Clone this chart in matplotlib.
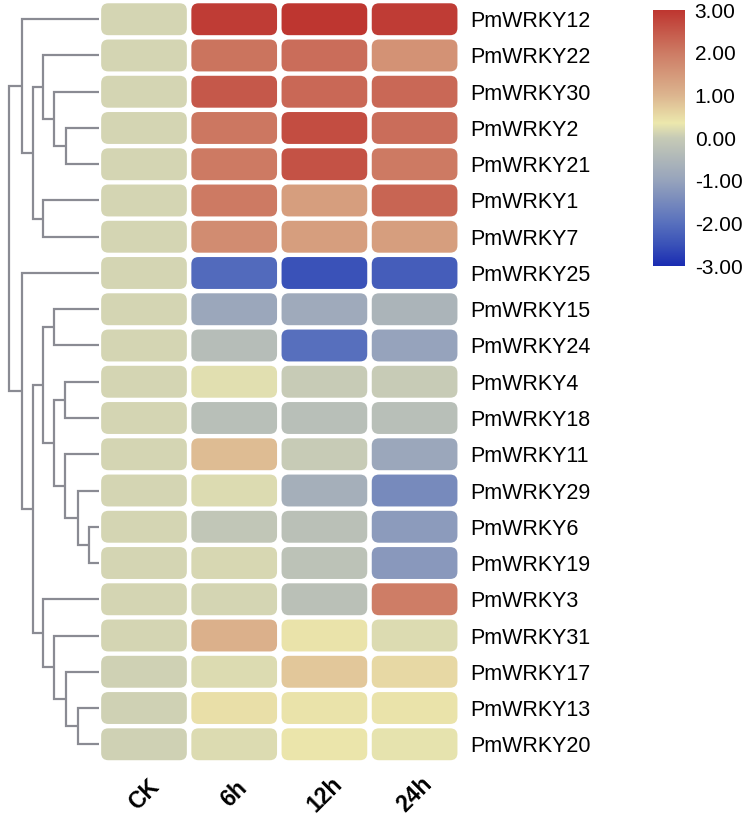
import matplotlib
matplotlib.use("Agg")
import matplotlib.pyplot as plt
import numpy as np
from matplotlib.colors import LinearSegmentedColormap, Normalize
from matplotlib.patches import FancyBboxPatch

plt.rcParams['font.family'] = ['Liberation Sans', 'DejaVu Sans']
plt.rcParams['axes.unicode_minus'] = False

genes = ['PmWRKY12', 'PmWRKY22', 'PmWRKY30', 'PmWRKY2', 'PmWRKY21', 'PmWRKY1', 'PmWRKY7',
         'PmWRKY25', 'PmWRKY15', 'PmWRKY24', 'PmWRKY4', 'PmWRKY18', 'PmWRKY11', 'PmWRKY29',
         'PmWRKY6', 'PmWRKY19', 'PmWRKY3', 'PmWRKY31', 'PmWRKY17', 'PmWRKY13', 'PmWRKY20']
samples = ['CK', '6h', '12h', '24h']

ck  = [0.12, 0.12, 0.12, 0.12, 0.12, 0.12, 0.12, 0.12, 0.12, 0.12, 0.12,
       0.12, 0.12, 0.12, 0.12, 0.12, 0.12, 0.12, 0.08, 0.08, 0.08]
h6  = [2.9, 2.1, 2.5, 2.05, 2.0, 2.0, 1.7, -2.1, -0.9, -0.35, 0.25,
       -0.3, 0.9, 0.2, -0.1, 0.15, 0.12, 1.1, 0.2, 0.45, 0.2]
h12 = [3.0, 2.2, 2.25, 2.65, 2.6, 1.4, 1.4, -2.5, -0.8, -2.0, 0.0,
       -0.3, 0.0, -0.7, -0.25, -0.2, -0.25, 0.4, 0.75, 0.4, 0.38]
h24 = [2.9, 1.6, 2.25, 2.2, 2.0, 2.3, 1.4, -2.3, -0.55, -1.0, 0.0,
       -0.3, -0.9, -1.5, -1.15, -1.2, 1.95, 0.2, 0.55, 0.4, 0.3]

# merges (left, right, height); node ids continue after the leaves
merges = [(3, 4, 2.9), (2, 21, 4.0), (1, 22, 5.0), (5, 6, 5.0), (23, 24, 5.9),
          (0, 25, 6.9), (8, 9, 4.0), (10, 11, 3.0), (14, 15, 0.9), (13, 29, 1.9),
          (12, 30, 3.0), (28, 31, 4.0), (27, 32, 5.0), (19, 20, 1.9), (18, 34, 2.9),
          (17, 35, 4.0), (16, 36, 5.0), (33, 37, 5.9), (7, 38, 6.9), (26, 39, 8.0)]

cbar_ticks = [3, 2, 1, 0, -1, -2, -3]

data = np.array([ck, h6, h12, h24]).T
n_rows, n_cols = data.shape

cmap = LinearSegmentedColormap.from_list('wrky', [
    (0.0, '#1a2cb2'), (0.5 / 6, '#3a52b8'), (1 / 6, '#5870bd'), (2 / 6, '#96a3bc'),
    (0.5, '#c6cab6'), (3.35 / 6, '#ece8ad'), (4 / 6, '#dcb58f'), (5 / 6, '#cd7b64'),
    (1.0, '#be3630')])
norm = Normalize(-3, 3)

W, H = 749, 816
fig = plt.figure(figsize=(W / 100, H / 100), dpi=100)

top_px, bot_px = 1.1, 762.4
hm_left, hm_right = 98.9, 459.7
ax = fig.add_axes([hm_left / W, 1 - bot_px / H, (hm_right - hm_left) / W, (bot_px - top_px) / H])
ax.set_xlim(0, n_cols)
ax.set_ylim(n_rows, 0)
px_x = (hm_right - hm_left) / n_cols
px_y = (bot_px - top_px) / n_rows
for i in range(n_rows):
    for j in range(n_cols):
        box = FancyBboxPatch((j + 0.025, i + 0.06), 0.95, 0.88,
                             boxstyle='round,pad=0,rounding_size=0.08',
                             mutation_aspect=px_x / px_y,
                             facecolor=cmap(norm(data[i, j])), edgecolor='none')
        ax.add_patch(box)
ax.set_yticks(np.arange(n_rows) + 0.5)
ax.set_yticklabels(genes, fontsize=15.5)
ax.yaxis.tick_right()
ax.set_xticks(np.arange(n_cols) + 0.5)
ax.set_xticklabels(samples, fontsize=16.5, fontweight='bold', rotation=45)
for lbl in ax.get_xticklabels():
    lbl.set_ha('center')
    lbl.set_va('center')
ax.tick_params(axis='y', length=0, pad=7.5)
ax.tick_params(axis='x', length=0, pad=23)
for s in ax.spines.values():
    s.set_visible(False)

# dendrogram
dax = fig.add_axes([0, 1 - bot_px / H, 99 / W, (bot_px - top_px) / H])
dax.set_ylim(n_rows, 0)
dax.set_xlim(98 / 11.1, 0)
dax.axis('off')
pos = {i: (i + 0.5, 0.0) for i in range(n_rows)}
for k, (a, b, h) in enumerate(merges):
    ya, ha = pos[a]
    yb, hb = pos[b]
    dax.plot([ha, h, h, hb], [ya, ya, yb, yb], color='#8a8b93', lw=1.6,
             solid_capstyle='butt', solid_joinstyle='miter')
    pos[n_rows + k] = ((ya + yb) / 2, h)

# colorbar
cax = fig.add_axes([653 / W, 1 - 266 / H, 32 / W, 256 / H])
sm = matplotlib.cm.ScalarMappable(norm=norm, cmap=cmap)
cb = fig.colorbar(sm, cax=cax)
cb.outline.set_visible(False)
cb.set_ticks(cbar_ticks)
cb.set_ticklabels(['%.2f' % t for t in cbar_ticks])
cax.tick_params(length=0, pad=7, labelsize=15)

plt.savefig('out.png', dpi=100)
